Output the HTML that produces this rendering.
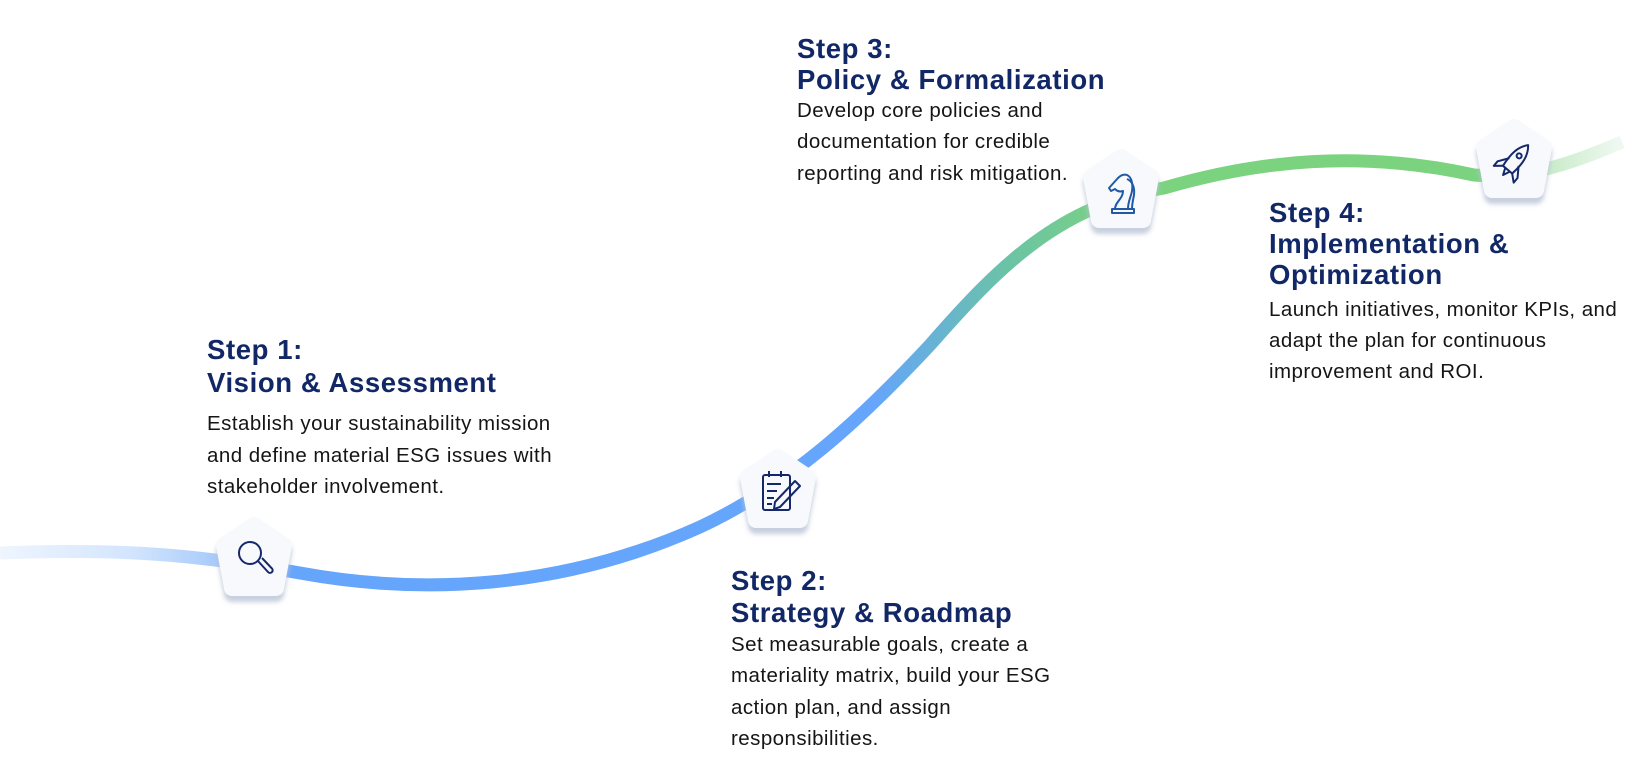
<!DOCTYPE html>
<html><head><meta charset="utf-8"><style>
html,body{margin:0;padding:0;background:#fff;}
svg{display:block;}
.h{font-family:"Liberation Sans",sans-serif;font-weight:bold;font-size:27.5px;letter-spacing:0.6px;fill:#112766;}
.b{font-family:"Liberation Sans",sans-serif;font-size:20.5px;letter-spacing:0.45px;fill:#151515;}
</style></head><body>
<svg width="1650" height="782" viewBox="0 0 1650 782" xmlns="http://www.w3.org/2000/svg">
<defs>
<linearGradient id="g" gradientUnits="userSpaceOnUse" x1="0" y1="0" x2="1650" y2="0">
<stop offset="0" stop-color="#eef5fe"/>
<stop offset="0.08" stop-color="#d3e5fd"/>
<stop offset="0.13" stop-color="#a9cbfb"/>
<stop offset="0.17" stop-color="#65a5fb"/>
<stop offset="0.53" stop-color="#65a5fb"/>
<stop offset="0.61" stop-color="#6bc3a6"/>
<stop offset="0.68" stop-color="#7bd37f"/>
<stop offset="0.915" stop-color="#7bd37f"/>
<stop offset="0.94" stop-color="#c9ecca"/>
<stop offset="0.98" stop-color="#eef8f0"/>
</linearGradient>
<filter id="sh" x="-30%" y="-30%" width="160%" height="170%">
<feDropShadow dx="0" dy="6" stdDeviation="2.5" flood-color="#b9c3d6" flood-opacity="0.8"/>
</filter>
<g id="pent"><path d="M0,-33 L30,-13 L22,30 L-22,30 L-30,-13 Z" fill="#f7f9fd" stroke="#f7f9fd" stroke-width="16" stroke-linejoin="round" filter="url(#sh)"/></g>
</defs>
<path d="M0 553 C120 548,200 555,300 573 C420 595,560 590,700 527 C790 485,860 420,930 345 C1000 265,1060 205,1164 188 C1260 160,1360 150,1474 175 C1530 180,1580 160,1622 142" fill="none" stroke="url(#g)" stroke-width="13"/>

<use href="#pent" x="254" y="558"/>
<use href="#pent" x="778" y="490"/>
<use href="#pent" x="1121" y="190"/>
<use href="#pent" x="1514" y="160"/>

<!-- magnifier -->
<g fill="none" stroke="#14286a" stroke-width="2">
<circle cx="250" cy="553" r="11"/>
<path d="M258 561 L268 572 a2.5 2.5 0 0 0 4 -3.5 L262 558"/>
</g>
<!-- notepad -->
<g fill="none" stroke="#14286a" stroke-width="2" stroke-linejoin="round">
<rect x="763" y="475" width="27" height="35" rx="2"/>
<path d="M769 471 v6 M781 471 v6 M767 484 h14 M767 491 h10 M767 498 h7 M767 504 h5"/>
<path d="M775 502 L795 481 L800 486 L780 507 L774 509 Z"/>
</g>
<!-- knight -->
<g fill="none" stroke="#1e5aa5" stroke-width="2" stroke-linejoin="round">
<path d="M1112 213 h22 v-4 h-22 z M1115 209 c0 -7 8 -10 8 -18 c-3 1 -6 0 -8 -2 l-4 2 l-2 -3 l9 -10 c3 -3 6 -4 9 -3 c5 2 6 10 5 16 c-1 6 -4 10 -4 18"/>
<path d="M1127 179 c5 2 8 8 7 16 c-1 5 -2 9 -2 14"/>
</g>
<!-- rocket -->
<g fill="none" stroke="#14286a" stroke-width="2" stroke-linejoin="round" transform="translate(1514 162) rotate(40)">
<path d="M0 -22 C7 -14 8 -4 6 10 L-6 10 C-8 -4 -7 -14 0 -22 Z"/>
<circle cx="0" cy="-8" r="2.5"/>
<path d="M-6 0 L-13 10 L-13 16 L-6 10 M6 0 L13 10 L13 16 L6 10"/>
<path d="M-3 10 L0 17 L3 10"/>
</g>

<text class="h" x="207" y="359">Step 1:</text>
<text class="h" x="207" y="392">Vision &amp; Assessment</text>
<text class="b" x="207" y="430">Establish your sustainability mission</text>
<text class="b" x="207" y="462">and define material ESG issues with</text>
<text class="b" x="207" y="493">stakeholder involvement.</text>

<text class="h" x="731" y="590">Step 2:</text>
<text class="h" x="731" y="622">Strategy &amp; Roadmap</text>
<text class="b" x="731" y="651">Set measurable goals, create a</text>
<text class="b" x="731" y="682">materiality matrix, build your ESG</text>
<text class="b" x="731" y="714">action plan, and assign</text>
<text class="b" x="731" y="745">responsibilities.</text>

<text class="h" x="797" y="58">Step 3:</text>
<text class="h" x="797" y="89">Policy &amp; Formalization</text>
<text class="b" x="797" y="117">Develop core policies and</text>
<text class="b" x="797" y="148">documentation for credible</text>
<text class="b" x="797" y="180">reporting and risk mitigation.</text>

<text class="h" x="1269" y="222">Step 4:</text>
<text class="h" x="1269" y="253">Implementation &amp;</text>
<text class="h" x="1269" y="284">Optimization</text>
<text class="b" x="1269" y="316">Launch initiatives, monitor KPIs, and</text>
<text class="b" x="1269" y="347">adapt the plan for continuous</text>
<text class="b" x="1269" y="378">improvement and ROI.</text>
</svg>
</body></html>
